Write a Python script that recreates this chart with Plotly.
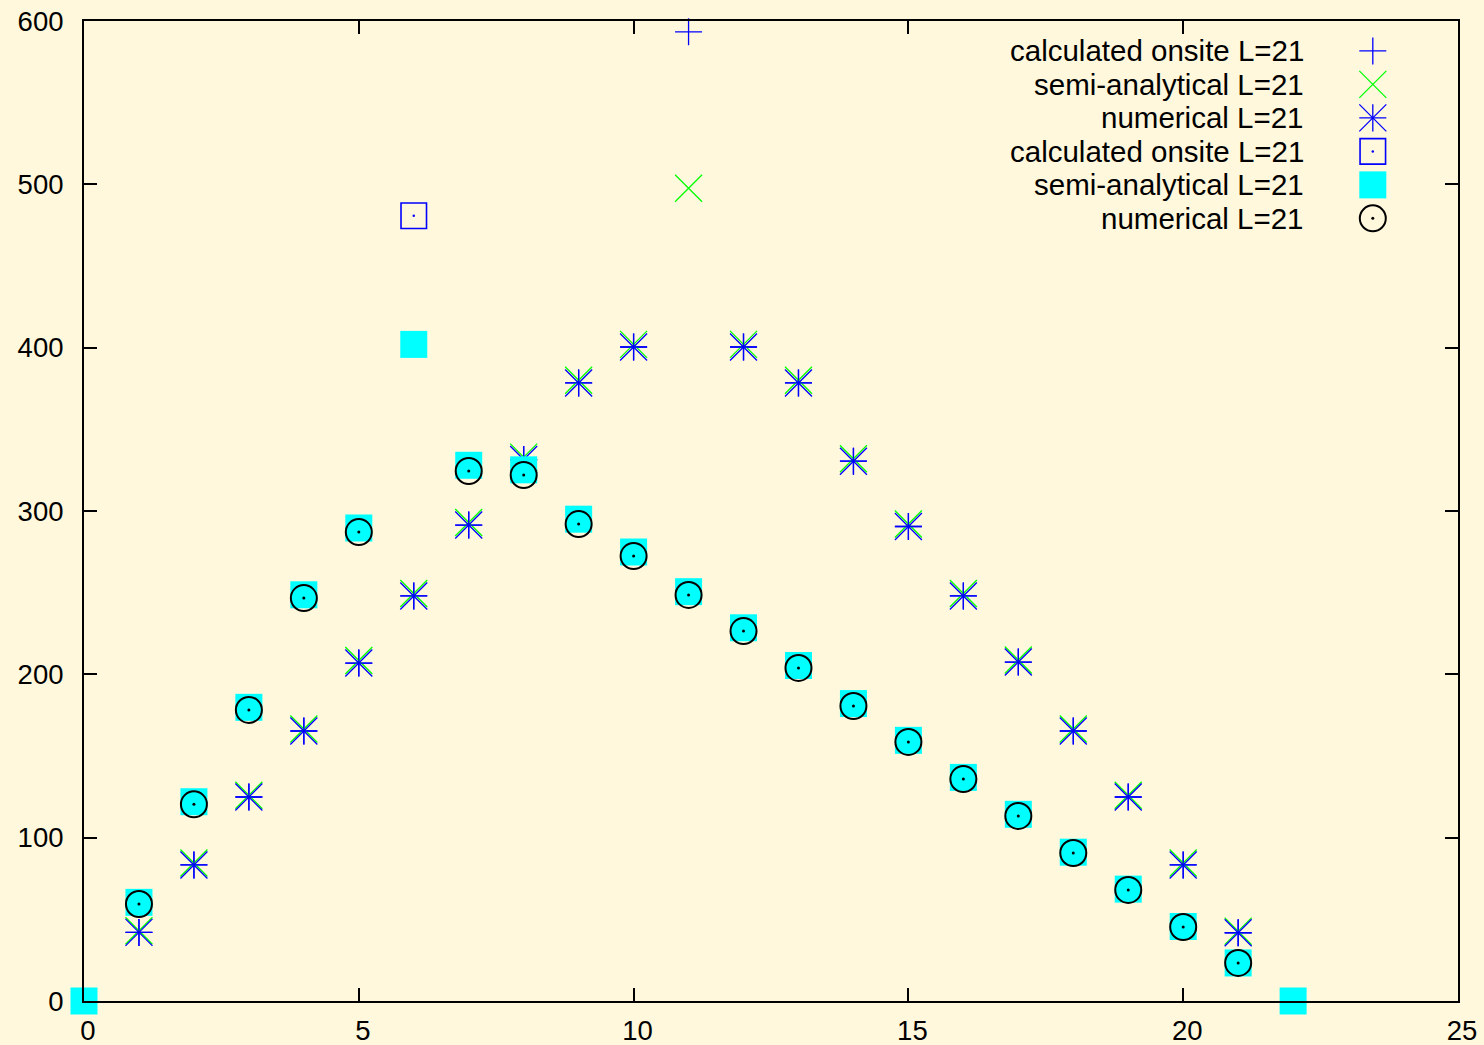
import plotly.graph_objects as go

# ---------------- data ----------------
x_a = list(range(1, 22))
calc_onsite_1 = [42.0, 83.3, 124.9, 165.3, 206.9, 248.0, 291.4, 331.5, 378.4, 400.4, 593.4,
                 400.4, 378.4, 330.5, 290.5, 248.0, 207.5, 165.3, 124.9, 83.3, 41.8]
semi_analytical_1 = [43.0, 84.5, 126.0, 166.5, 208.5, 249.5, 293.0, 333.0, 380.0, 402.0, 497.6,
                     402.0, 380.0, 332.0, 292.0, 249.5, 208.8, 166.5, 126.0, 84.5, 42.8]
numerical_1 = [42.0, 83.3, 124.9, 165.3, 206.9, 248.0, 291.4, 331.5, 378.4, 400.4, None,
               400.4, 378.4, 330.5, 290.5, 248.0, 207.5, 165.3, 124.9, 83.3, 41.8]

x_b = list(range(0, 23))
calc_onsite_2 = [None, None, None, None, None, None, 480.8, None, None, None, None, None,
                 None, None, None, None, None, None, None, None, None, None, None]
semi_analytical_2 = [0, 60.4, 122.0, 179.8, 248.7, 289.6, 402.0, 328.0, 325.2, 295.0, 274.9, 250.6,
                     228.5, 205.4, 182.1, 159.6, 136.9, 114.3, 91.1, 68.5, 45.6, 23.3, 0]
numerical_2 = [None, 59.4, 120.4, 178.2, 246.7, 287.1, None, 324.5, 322.0, 292.0, 272.4, 248.6,
               226.5, 203.9, 180.6, 158.6, 135.9, 113.3, 90.6, 68.0, 45.3, 23.3, None]

legend_labels = ["calculated onsite L=21", "semi-analytical L=21", "numerical L=21",
                 "calculated onsite L=21", "semi-analytical L=21", "numerical L=21"]

x_ticks = [0, 5, 10, 15, 20, 25]
y_ticks = [0, 100, 200, 300, 400, 500, 600]

# ---------------- styles ----------------
BLUE = "#0000ff"
GREEN = "#00ff00"
CYAN = "#00ffff"
BG = "#fff8dc"
FONT = "Liberation Sans"

# (list of marker specs) per series
styles = [
    [dict(symbol="cross-thin", size=19.3, color=BLUE, line=dict(color=BLUE, width=1.3))],
    [dict(symbol="x-thin", size=27, color=GREEN, line=dict(color=GREEN, width=1.3))],
    [dict(symbol="cross-thin", size=19.3, color=BLUE, line=dict(color=BLUE, width=1.3)),
     dict(symbol="x-thin", size=27, color=BLUE, line=dict(color=BLUE, width=1.3))],
    [dict(symbol="square-open", size=25.5, color=BLUE, line=dict(color=BLUE, width=1.6)),
     dict(symbol="circle", size=2.5, color=BLUE, line=dict(width=0))],
    [dict(symbol="square", size=27, color=CYAN, line=dict(width=0))],
    [dict(symbol="circle-open", size=26, color="black", line=dict(color="black", width=2.0)),
     dict(symbol="circle", size=3, color="black", line=dict(width=0))],
]

series = [
    (x_a, calc_onsite_1),
    (x_a, semi_analytical_1),
    (x_a, numerical_1),
    (x_b, calc_onsite_2),
    (x_b, semi_analytical_2),
    (x_b, numerical_2),
]

fig = go.Figure()

for (xs, ys), specs in zip(series, styles):
    for spec in specs:
        fig.add_trace(go.Scatter(
            x=xs, y=ys, mode="markers", marker=spec, cliponaxis=False,
            showlegend=False, hoverinfo="x+y"))

# ---------------- custom legend (right-aligned text, symbol on right) ----------------
row0 = 0.9695
row_step = 0.03418
text_x = 0.8894
sym_x = 0.938
for i, (label, specs) in enumerate(zip(legend_labels, styles)):
    yy = row0 - i * row_step
    fig.add_annotation(x=text_x, y=yy, xref="paper", yref="paper", text=label,
                       showarrow=False, xanchor="right", yanchor="middle",
                       font=dict(family=FONT, size=29.5, color="black"))
    for spec in specs:
        fig.add_trace(go.Scatter(x=[sym_x], y=[yy], xaxis="x2", yaxis="y2",
                                 mode="markers", marker=spec, showlegend=False,
                                 hoverinfo="skip", cliponaxis=False))

axis_common = dict(
    showline=True, linecolor="black", linewidth=2, mirror="ticks",
    ticks="inside", ticklen=13, tickwidth=1.5, tickcolor="black",
    showgrid=False, zeroline=False, layer="above traces", automargin=False,
    tickfont=dict(family=FONT, size=27.5, color="black"),
)

fig.update_layout(
    width=1484, height=1045,
    margin=dict(l=84, r=26, t=21, b=44),
    paper_bgcolor=BG, plot_bgcolor=BG,
    showlegend=False,
    xaxis=dict(range=[0, 25], tickvals=x_ticks, ticktext=[str(v) for v in x_ticks],
               ticklabelstandoff=4, ticklabelshift=4, **axis_common),
    yaxis=dict(range=[0, 600], tickvals=y_ticks, ticktext=[str(v) for v in y_ticks],
               ticklabelstandoff=13, **axis_common),
    xaxis2=dict(range=[0, 1], overlaying="x", visible=False, fixedrange=True),
    yaxis2=dict(range=[0, 1], overlaying="y", visible=False, fixedrange=True),
)

fig.write_html("out.html")
